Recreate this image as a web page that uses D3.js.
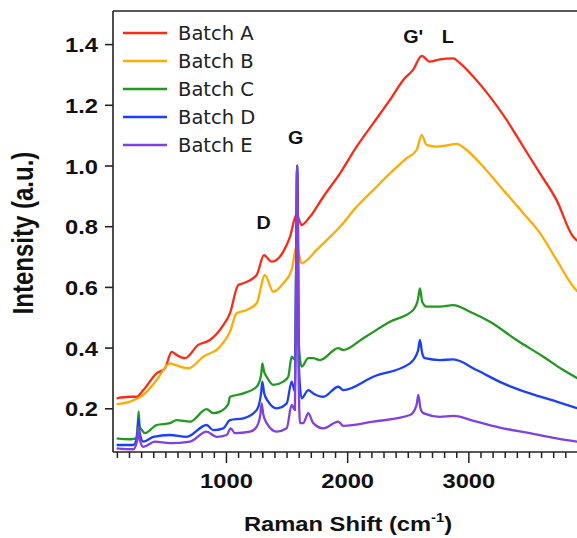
<!DOCTYPE html>
<html>
<head>
<meta charset="utf-8">
<style>
  body { margin: 0; background: #fff; }
  svg { display: block; }
</style>
</head>
<body>
<svg id="chart"></svg>
<script src="https://d3js.org/d3.v7.min.js"></script>
<script>
// Raman spectra: [shift cm-1, intensity]
var batchA = [[98,0.233],[208,0.238],[263,0.238],[318,0.26],[428,0.315],[497,0.332],[552,0.386],[593,0.376],
  [662,0.365],[771,0.409],[868,0.425],[978,0.474],[1033,0.513],[1101,0.606],[1143,0.612],[1253,0.639],
  [1314,0.705],[1377,0.683],[1473,0.716],[1528,0.765],[1583,0.84],[1624,0.804],[1693,0.831],[1803,0.897],
  [1941,0.974],[2078,1.062],[2215,1.139],[2353,1.216],[2463,1.282],[2545,1.316],[2615,1.361],[2683,1.342],
  [2766,1.35],[2875,1.353],[2931,1.337],[3040,1.293],[3178,1.227],[3316,1.15],[3453,1.062],[3591,0.974],
  [3728,0.886],[3865,0.765],[3900,0.752]]
var batchB = [[98,0.214],[208,0.222],[318,0.244],[428,0.293],[538,0.348],[580,0.343],[689,0.332],[813,0.37],
  [951,0.403],[1033,0.452],[1088,0.513],[1171,0.524],[1253,0.546],[1322,0.639],[1390,0.584],[1473,0.612],
  [1542,0.656],[1583,0.735],[1624,0.678],[1652,0.683],[1748,0.722],[1941,0.798],[2078,0.864],[2215,0.919],
  [2353,0.974],[2491,1.024],[2573,1.051],[2615,1.1],[2656,1.068],[2738,1.062],[2848,1.068],[2903,1.071],
  [2986,1.051],[3123,0.996],[3288,0.919],[3453,0.843],[3591,0.777],[3728,0.689],[3865,0.601],[3900,0.585]]
var batchC = [[98,0.101],[208,0.098],[255,0.101],[270,0.13],[279,0.19],[288,0.14],[305,0.129],[332,0.118],
  [428,0.145],[538,0.151],[593,0.161],[703,0.156],[840,0.197],[895,0.184],[951,0.189],[1019,0.214],
  [1033,0.238],[1143,0.249],[1253,0.271],[1290,0.31],[1300,0.348],[1315,0.32],[1336,0.304],[1390,0.277],
  [1473,0.288],[1514,0.304],[1542,0.37],[1569,0.36],[1579,0.68],[1585,0.97],[1588,1.0],[1593,0.85],[1600,0.42],
  [1624,0.337],[1679,0.365],[1720,0.365],[1775,0.359],[1927,0.398],[1968,0.392],[2133,0.431],[2353,0.485],
  [2545,0.524],[2585,0.56],[2600,0.595],[2620,0.55],[2656,0.535],[2766,0.535],[2875,0.54],[3013,0.518],
  [3178,0.485],[3398,0.425],[3618,0.37],[3783,0.326],[3900,0.299]]
var batchD = [[98,0.079],[235,0.079],[268,0.11],[278,0.165],[288,0.12],[318,0.09],[401,0.106],[538,0.112],
  [675,0.106],[840,0.145],[895,0.128],[978,0.134],[1033,0.161],[1143,0.167],[1253,0.194],[1290,0.25],
  [1300,0.288],[1315,0.25],[1349,0.222],[1418,0.2],[1501,0.216],[1542,0.288],[1569,0.255],[1579,0.66],
  [1585,0.96],[1588,1.0],[1593,0.84],[1600,0.36],[1624,0.233],[1679,0.26],[1720,0.249],[1803,0.238],
  [1927,0.271],[1968,0.26],[2215,0.304],[2518,0.348],[2585,0.39],[2600,0.425],[2620,0.38],[2641,0.365],
  [2766,0.359],[2875,0.361],[3068,0.326],[3288,0.282],[3508,0.249],[3728,0.222],[3900,0.2]]
var batchE = [[98,0.068],[235,0.065],[268,0.095],[278,0.139],[288,0.1],[318,0.073],[414,0.09],[538,0.085],
  [703,0.09],[840,0.123],[923,0.106],[1006,0.112],[1039,0.134],[1074,0.118],[1198,0.123],[1253,0.139],
  [1284,0.18],[1294,0.216],[1308,0.18],[1336,0.151],[1418,0.123],[1501,0.134],[1542,0.211],[1569,0.194],
  [1579,0.66],[1585,0.96],[1588,1.0],[1593,0.84],[1600,0.3],[1611,0.151],[1638,0.151],[1679,0.184],
  [1720,0.151],[1803,0.134],[1927,0.156],[1968,0.142],[2215,0.156],[2518,0.178],[2572,0.21],[2587,0.244],
  [2605,0.2],[2628,0.184],[2766,0.172],[2875,0.175],[3068,0.156],[3288,0.134],[3508,0.118],[3728,0.101],
  [3900,0.09]]

var names = ["Batch A", "Batch B", "Batch C", "Batch D", "Batch E"]
var colors = ["#ff2a14", "#ffab00", "#1f9a1f", "#1a40ff", "#8040e6"]
var yTicks = [0.2, 0.4, 0.6, 0.8, 1.0, 1.2, 1.4]
var xMajor = [1000, 2000, 3000]
var peaks = [{label: "D", x: 1310, y: 0.79}, {label: "G", x: 1575, y: 1.07},
             {label: "G'", x: 2545, y: 1.405}, {label: "L", x: 2830, y: 1.405}]

var series = [batchA, batchB, batchC, batchD, batchE]

var width = 577, height = 538
var plotLeft = 113, plotTop = 11, plotBottom = 452
var sx = 1.13   // the original's lettering is a little wide
var boldFont = 'Liberation Sans, Arial, sans-serif'

var svg = d3.select('#chart').attr('width', width).attr('height', height)

var x = d3.scaleLinear().domain([68, 3900]).range([plotLeft, plotLeft + 3832 * 0.1212])
var y = d3.scaleLinear().domain([0.2, 1.4]).range([408.3, 408.3 - 1.2 * 303.5])

svg.append('clipPath').attr('id', 'plotclip')
  .append('rect').attr('x', plotLeft).attr('y', plotTop)
  .attr('width', width - plotLeft).attr('height', plotBottom - plotTop)

var line = d3.line()
  .x(function(d) { return x(d[0]) })
  .y(function(d) { return y(d[1]) })
  .curve(d3.curveMonotoneX)

svg.append('g').attr('clip-path', 'url(#plotclip)')
  .selectAll('path').data(series).enter().append('path')
  .attr('d', line)
  .attr('fill', 'none')
  .attr('stroke', function(d, i) { return colors[i] })
  .attr('stroke-width', 2.3)
  .attr('stroke-linejoin', 'round')

// frame
var frame = svg.append('g').attr('stroke', '#222').attr('stroke-width', 1.6).attr('fill', 'none')
frame.append('line').attr('x1', plotLeft).attr('x2', plotLeft).attr('y1', plotTop).attr('y2', plotBottom)
frame.append('line').attr('x1', plotLeft).attr('x2', width).attr('y1', plotTop).attr('y2', plotTop)
frame.append('line').attr('x1', plotLeft).attr('x2', width).attr('y1', plotBottom).attr('y2', plotBottom)

// y axis
var yAxis = d3.axisLeft(y).tickValues(yTicks).tickFormat(d3.format('.1f')).tickSize(8).tickPadding(7)
var gy = svg.append('g').attr('transform', 'translate(' + plotLeft + ',0)').call(yAxis)
gy.select('.domain').remove()
gy.selectAll('line').attr('stroke', '#222').attr('stroke-width', 1.6)
gy.selectAll('text').attr('font-family', boldFont)
  .attr('font-weight', 'bold').attr('font-size', 21).attr('fill', '#111').attr('dy', '0.36em')
  .attr('x', -15 / sx).attr('transform', 'scale(' + sx + ',1)')

// x axis: minor every 100, labels on the thousands
var minor = d3.range(100, 3900, 100).filter(function(v) { return xMajor.indexOf(v) < 0 })
var gxm = svg.append('g').attr('transform', 'translate(0,' + plotBottom + ')')
  .call(d3.axisBottom(x).tickValues(minor).tickSize(6).tickFormat(''))
gxm.select('.domain').remove()
gxm.selectAll('line').attr('stroke', '#222').attr('stroke-width', 1.5)
var gx = svg.append('g').attr('transform', 'translate(0,' + plotBottom + ')')
  .call(d3.axisBottom(x).tickValues(xMajor).tickSize(11).tickPadding(10).tickFormat(d3.format('d')))
gx.select('.domain').remove()
gx.selectAll('line').attr('stroke', '#222').attr('stroke-width', 1.5)
gx.selectAll('text').attr('font-family', boldFont)
  .attr('font-weight', 'bold').attr('font-size', 21).attr('fill', '#111')
  .attr('transform', 'scale(' + sx + ',1)')

// axis titles
var xt = svg.append('text')
  .attr('transform', 'translate(348,531) scale(' + sx + ',1)').attr('text-anchor', 'middle')
  .attr('font-family', boldFont).attr('font-weight', 'bold')
  .attr('font-size', 21).attr('fill', '#111')
xt.append('tspan').text('Raman Shift (cm')
xt.append('tspan').attr('font-size', 13).attr('dy', -9).text('-1')
xt.append('tspan').attr('dy', 9).text(')')

svg.append('text').attr('transform', 'translate(33,233) scale(1.2,1) rotate(-90)')
  .attr('text-anchor', 'middle')
  .attr('font-family', boldFont).attr('font-weight', 'bold')
  .attr('font-size', 24).attr('fill', '#111').text('Intensity (a.u.)')

// legend
var legend = svg.append('g').selectAll('g').data(names).enter().append('g')
  .attr('transform', function(d, i) { return 'translate(123,' + (33 + i * 28) + ')' })
legend.append('line').attr('x1', 0).attr('x2', 44)
  .attr('stroke', function(d, i) { return colors[i] }).attr('stroke-width', 2.3)
legend.append('text').attr('x', 55).attr('dy', '0.36em')
  .attr('font-family', 'DejaVu Sans, sans-serif').attr('font-size', 19.5).attr('fill', '#222')
  .text(function(d) { return d })

// peak labels
svg.selectAll('.peak').data(peaks).enter().append('text').attr('class', 'peak')
  .attr('transform', function(d) { return 'translate(' + x(d.x) + ',' + y(d.y) + ') scale(' + sx + ',1)' })
  .attr('text-anchor', 'middle')
  .attr('font-family', boldFont).attr('font-weight', 'bold')
  .attr('font-size', 17.5).attr('fill', '#111')
  .text(function(d) { return d.label })
</script>
</body>
</html>
